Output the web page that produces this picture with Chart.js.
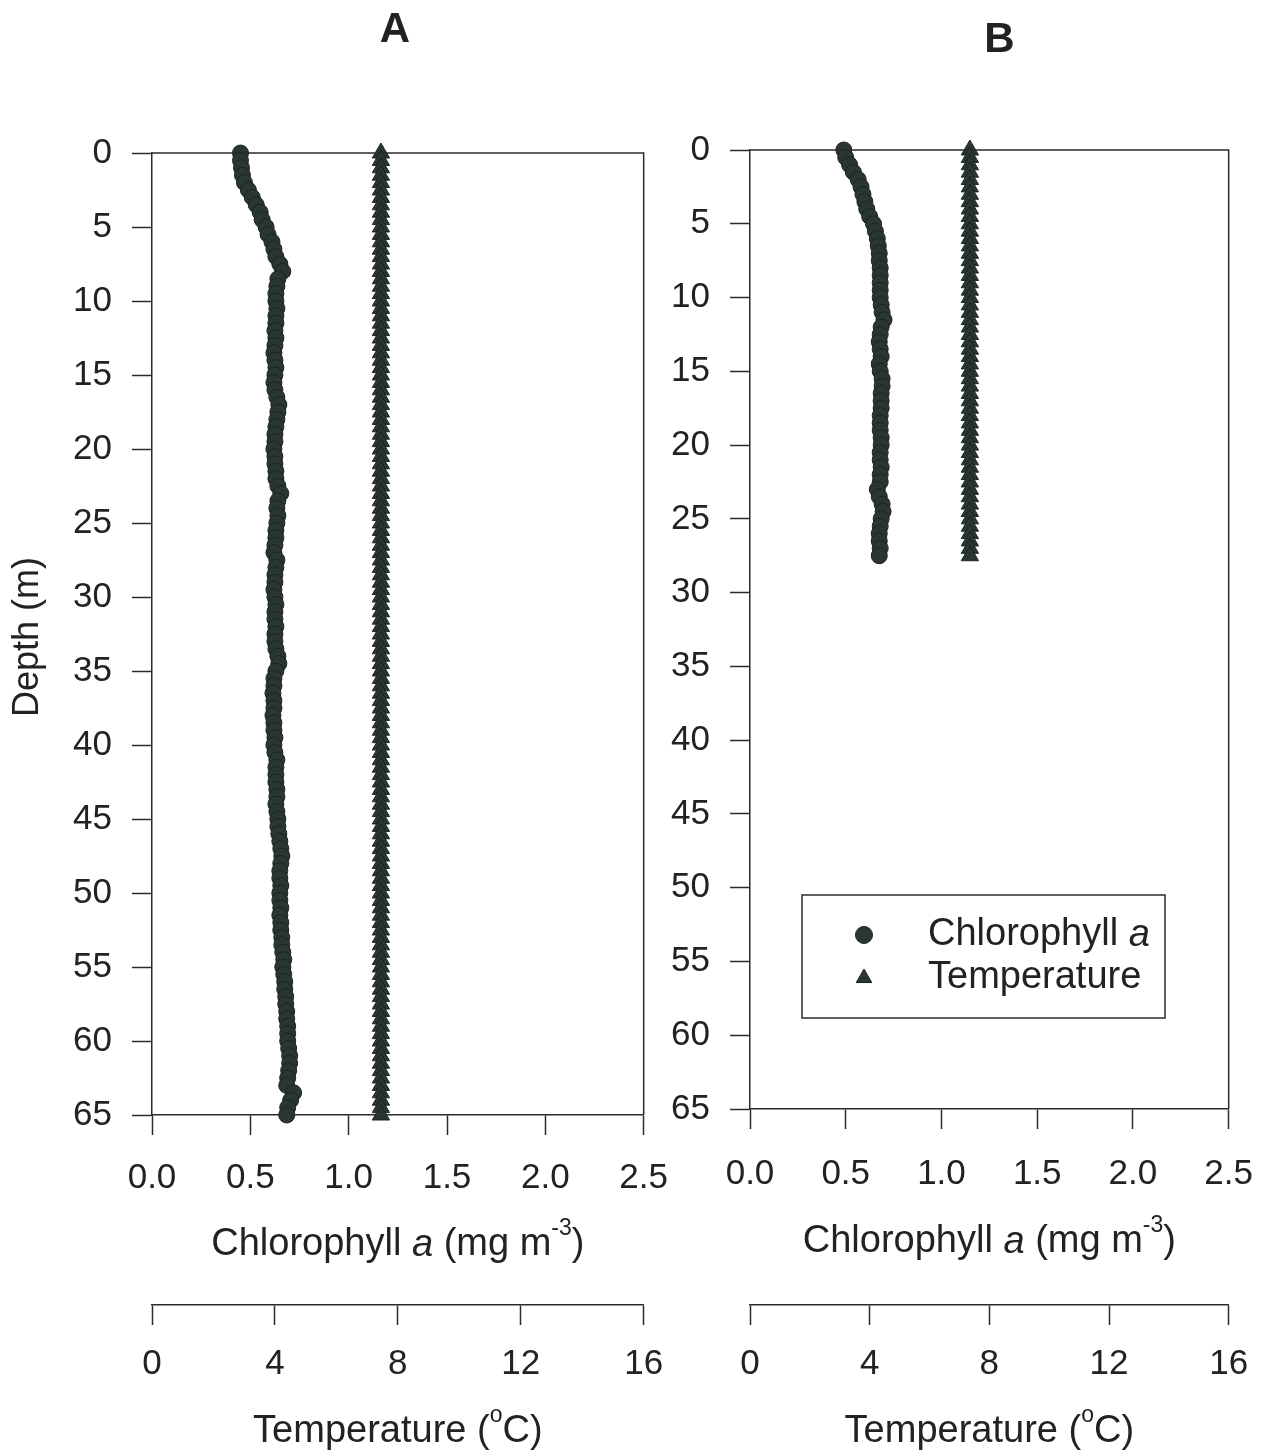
<!DOCTYPE html>
<html>
<head>
<meta charset="utf-8">
<title>Chlorophyll a and temperature profiles</title>
<script src="https://cdn.jsdelivr.net/npm/chart.js@4.4.0/dist/chart.umd.min.js"></script>
<style>
  html, body { margin: 0; padding: 0; background: #fff; overflow: hidden; }
  #wrap { position: relative; width: 1273px; height: 1455px; overflow: hidden; }
  #chartA { position: absolute; left: 0; top: 0; }
  #chartB { position: absolute; left: 640px; top: 0; }
</style>
</head>
<body>
<div id="wrap">
  <canvas id="chartA" width="690" height="1455"></canvas>
  <canvas id="chartB" width="637" height="1455"></canvas>
</div>
<script>
// ---- data (depth in m, chlorophyll a in mg m-3, temperature in degC) ----
var depthA = [
  0, 0.5, 1, 1.5, 2, 2.5, 3, 3.5, 4, 4.5,
  5, 5.5, 6, 6.5, 7, 7.5, 8, 8.5, 9, 9.5,
  10, 10.5, 11, 11.5, 12, 12.5, 13, 13.5, 14, 14.5,
  15, 15.5, 16, 16.5, 17, 17.5, 18, 18.5, 19, 19.5,
  20, 20.5, 21, 21.5, 22, 22.5, 23, 23.5, 24, 24.5,
  25, 25.5, 26, 26.5, 27, 27.5, 28, 28.5, 29, 29.5,
  30, 30.5, 31, 31.5, 32, 32.5, 33, 33.5, 34, 34.5,
  35, 35.5, 36, 36.5, 37, 37.5, 38, 38.5, 39, 39.5,
  40, 40.5, 41, 41.5, 42, 42.5, 43, 43.5, 44, 44.5,
  45, 45.5, 46, 46.5, 47, 47.5, 48, 48.5, 49, 49.5,
  50, 50.5, 51, 51.5, 52, 52.5, 53, 53.5, 54, 54.5,
  55, 55.5, 56, 56.5, 57, 57.5, 58, 58.5, 59, 59.5,
  60, 60.5, 61, 61.5, 62, 62.5, 63, 63.5, 64, 64.5,
  65
];
var chlA = [
  0.45, 0.45, 0.455, 0.46, 0.47, 0.49, 0.51, 0.53, 0.55, 0.56,
  0.58, 0.59, 0.61, 0.62, 0.63, 0.65, 0.665, 0.64, 0.635, 0.63,
  0.63, 0.635, 0.63, 0.63, 0.625, 0.63, 0.625, 0.62, 0.625, 0.63,
  0.625, 0.62, 0.625, 0.635, 0.645, 0.64, 0.635, 0.63, 0.625, 0.625,
  0.62, 0.625, 0.625, 0.63, 0.63, 0.64, 0.655, 0.64, 0.635, 0.64,
  0.635, 0.63, 0.63, 0.625, 0.62, 0.635, 0.63, 0.625, 0.625, 0.62,
  0.625, 0.63, 0.625, 0.625, 0.63, 0.625, 0.625, 0.63, 0.64, 0.645,
  0.63, 0.62, 0.62, 0.615, 0.62, 0.62, 0.615, 0.62, 0.62, 0.625,
  0.62, 0.625, 0.635, 0.63, 0.63, 0.63, 0.635, 0.635, 0.63, 0.635,
  0.64, 0.64, 0.645, 0.65, 0.655, 0.66, 0.655, 0.65, 0.65, 0.655,
  0.65, 0.65, 0.655, 0.65, 0.655, 0.655, 0.66, 0.66, 0.665, 0.67,
  0.665, 0.67, 0.675, 0.675, 0.68, 0.68, 0.685, 0.685, 0.69, 0.69,
  0.69, 0.695, 0.7, 0.7, 0.695, 0.69, 0.685, 0.72, 0.705, 0.69,
  0.685
];
var tempA = [
  7.45, 7.45, 7.45, 7.45, 7.45, 7.45, 7.45, 7.45, 7.45, 7.45,
  7.45, 7.45, 7.45, 7.45, 7.45, 7.45, 7.45, 7.45, 7.45, 7.45,
  7.45, 7.45, 7.45, 7.45, 7.45, 7.45, 7.45, 7.45, 7.45, 7.45,
  7.45, 7.45, 7.45, 7.45, 7.45, 7.45, 7.45, 7.45, 7.45, 7.45,
  7.45, 7.45, 7.45, 7.45, 7.45, 7.45, 7.45, 7.45, 7.45, 7.45,
  7.45, 7.45, 7.45, 7.45, 7.45, 7.45, 7.45, 7.45, 7.45, 7.45,
  7.45, 7.45, 7.45, 7.45, 7.45, 7.45, 7.45, 7.45, 7.45, 7.45,
  7.45, 7.45, 7.45, 7.45, 7.45, 7.45, 7.45, 7.45, 7.45, 7.45,
  7.45, 7.45, 7.45, 7.45, 7.45, 7.45, 7.45, 7.45, 7.45, 7.45,
  7.45, 7.45, 7.45, 7.45, 7.45, 7.45, 7.45, 7.45, 7.45, 7.45,
  7.45, 7.45, 7.45, 7.45, 7.45, 7.45, 7.45, 7.45, 7.45, 7.45,
  7.45, 7.45, 7.45, 7.45, 7.45, 7.45, 7.45, 7.45, 7.45, 7.45,
  7.45, 7.45, 7.45, 7.45, 7.45, 7.45, 7.45, 7.45, 7.45, 7.45,
  7.45
];

var depthB = [
  0, 0.5, 1, 1.5, 2, 2.5, 3, 3.5, 4, 4.5,
  5, 5.5, 6, 6.5, 7, 7.5, 8, 8.5, 9, 9.5,
  10, 10.5, 11, 11.5, 12, 12.5, 13, 13.5, 14, 14.5,
  15, 15.5, 16, 16.5, 17, 17.5, 18, 18.5, 19, 19.5,
  20, 20.5, 21, 21.5, 22, 22.5, 23, 23.5, 24, 24.5,
  25, 25.5, 26, 26.5, 27, 27.5
];
var chlB = [
  0.49, 0.5, 0.52, 0.54, 0.565, 0.58, 0.59, 0.6, 0.61, 0.625,
  0.645, 0.655, 0.665, 0.67, 0.675, 0.675, 0.68, 0.68, 0.68, 0.68,
  0.68, 0.685, 0.69, 0.7, 0.685, 0.68, 0.675, 0.68, 0.685, 0.675,
  0.68, 0.69, 0.69, 0.685, 0.685, 0.685, 0.68, 0.68, 0.68, 0.685,
  0.685, 0.68, 0.68, 0.685, 0.68, 0.68, 0.665, 0.675, 0.69, 0.695,
  0.685, 0.68, 0.675, 0.675, 0.68, 0.675
];
var tempB = [
  7.35, 7.35, 7.35, 7.35, 7.35, 7.35, 7.35, 7.35, 7.35, 7.35,
  7.35, 7.35, 7.35, 7.35, 7.35, 7.35, 7.35, 7.35, 7.35, 7.35,
  7.35, 7.35, 7.35, 7.35, 7.35, 7.35, 7.35, 7.35, 7.35, 7.35,
  7.35, 7.35, 7.35, 7.35, 7.35, 7.35, 7.35, 7.35, 7.35, 7.35,
  7.35, 7.35, 7.35, 7.35, 7.35, 7.35, 7.35, 7.35, 7.35, 7.35,
  7.35, 7.35, 7.35, 7.35, 7.35, 7.35
];

var chlTicks = [0, 0.5, 1, 1.5, 2, 2.5];
var tempTicks = [0, 4, 8, 12, 16];
var depthTicks = [0, 5, 10, 15, 20, 25, 30, 35, 40, 45, 50, 55, 60, 65];

// ---- styling ----
var FONT = "'Liberation Sans', Arial, Helvetica, sans-serif";
var MARK = "#2a3731";
var MARK_EDGE = "#1b2420";
var AXIS = "#2b2b2b";
var TEXT = "#222";

function toPoints(xs, ys) {
  return xs.map(function (v, i) { return { x: v, y: ys[i] }; });
}

function fixedTicks(values) {
  return function (scale) {
    scale.ticks = values.map(function (v) { return { value: v }; });
  };
}

// draw a run of text pieces with different styles, centred on (cx, cy)
function drawRich(ctx, parts, cx, cy, size) {
  var total = 0;
  parts.forEach(function (p) {
    p.fs = p.sup ? Math.round(size * 0.6) : size;
    ctx.font = (p.italic ? "italic " : "") + p.fs + "px " + FONT;
    p.w = ctx.measureText(p.t).width;
    total += p.w;
  });
  var x = cx - total / 2;
  ctx.textAlign = "left";
  ctx.textBaseline = "middle";
  parts.forEach(function (p) {
    ctx.font = (p.italic ? "italic " : "") + p.fs + "px " + FONT;
    ctx.fillText(p.t, x, p.sup ? cy - size * 0.44 : cy);
    x += p.w;
  });
}

function chlTitle() {
  return [{ t: "Chlorophyll " }, { t: "a", italic: true }, { t: " (mg m" }, { t: "-3", sup: true }, { t: ")" }];
}
function tempTitle() {
  return [{ t: "Temperature (" }, { t: "o", sup: true }, { t: "C)" }];
}

var decorPlugin = {
  id: "decor",
  afterDraw: function (chart, args, opts) {
    var ctx = chart.ctx;
    var area = chart.chartArea;
    var sx = chart.scales.x;
    var st = chart.scales.xT;
    ctx.save();

    // top and right edges of the frame
    ctx.strokeStyle = AXIS;
    ctx.lineWidth = 1.5;
    ctx.beginPath();
    ctx.moveTo(area.left, area.top);
    ctx.lineTo(area.right, area.top);
    ctx.lineTo(area.right, area.bottom);
    ctx.stroke();

    ctx.fillStyle = TEXT;
    var mid = (area.left + area.right) / 2;
    drawRich(ctx, chlTitle(), mid, sx.top + opts.chlTitleDy, 38);
    drawRich(ctx, tempTitle(), mid, st.top + 127, 38);

    if (opts.yTitle) {
      ctx.save();
      ctx.translate(28, (area.top + area.bottom) / 2 + 3);
      ctx.rotate(-Math.PI / 2);
      ctx.font = "36px " + FONT;
      ctx.textAlign = "center";
      ctx.textBaseline = "middle";
      ctx.fillText(opts.yTitle, 0, 0);
      ctx.restore();
    }

    // panel letter
    ctx.font = "bold 42px " + FONT;
    ctx.textAlign = "center";
    ctx.textBaseline = "middle";
    ctx.fillText(opts.letter, mid + opts.letterDx, opts.letterY);

    // legend box
    if (opts.legend) {
      var bx = area.left + 52, by = area.top + 745, bw = 363, bh = 123;
      ctx.strokeStyle = AXIS;
      ctx.lineWidth = 1.5;
      ctx.strokeRect(bx, by, bw, bh);
      var rows = [by + 40, by + 83];
      ctx.fillStyle = MARK;
      ctx.strokeStyle = MARK_EDGE;
      ctx.lineWidth = 1;
      chart.data.datasets.forEach(function (d, i) {
        Chart.helpers.drawPoint(ctx, {
          pointStyle: d.pointStyle, radius: i === 0 ? 8.5 : 9, borderWidth: 1, rotation: 0
        }, bx + 62, rows[i]);
      });
      ctx.fillStyle = TEXT;
      ctx.textAlign = "left";
      ctx.textBaseline = "middle";
      var x = bx + 126;
      ctx.font = "38px " + FONT;
      ctx.fillText("Chlorophyll ", x, rows[0]);
      x += ctx.measureText("Chlorophyll ").width;
      ctx.font = "italic 38px " + FONT;
      ctx.fillText("a", x, rows[0]);
      ctx.font = "38px " + FONT;
      ctx.fillText("Temperature", bx + 126, rows[1]);
    }
    ctx.restore();
  }
};

function makePanel(canvasId, p) {
  var tickFont = { family: FONT, size: 35 };
  return new Chart(document.getElementById(canvasId), {
    type: "scatter",
    data: {
      datasets: [
        {
          label: "Chlorophyll a",
          data: toPoints(p.chl, p.depth),
          xAxisID: "x", yAxisID: "y",
          pointStyle: "circle", pointRadius: 8, pointHoverRadius: 8,
          backgroundColor: MARK, borderColor: MARK_EDGE, borderWidth: 1,
          clip: false
        },
        {
          label: "Temperature",
          data: toPoints(p.temp, p.depth),
          xAxisID: "xT", yAxisID: "y",
          pointStyle: "triangle", pointRadius: 10, pointHoverRadius: 10,
          backgroundColor: MARK, borderColor: MARK_EDGE, borderWidth: 1,
          clip: false
        }
      ]
    },
    options: {
      responsive: false,
      animation: false,
      events: [],
      layout: { padding: { top: p.top, left: 0, right: p.padRight, bottom: 10 } },
      plugins: {
        legend: { display: false },
        title: { display: false },
        tooltip: { enabled: false },
        decor: p.decor
      },
      scales: {
        x: {
          type: "linear", position: "bottom", min: 0, max: 2.5,
          afterBuildTicks: fixedTicks(chlTicks),
          grid: { drawOnChartArea: false, tickLength: 20, tickWidth: 1.5, tickColor: AXIS },
          border: { display: true, color: AXIS, width: 1.5 },
          ticks: {
            color: TEXT, font: tickFont, padding: p.xTickPad, maxRotation: 0, autoSkip: false,
            callback: function (v) { return v.toFixed(1); }
          },
          afterFit: function (s) { s.height = p.chlAxisH; }
        },
        xT: {
          type: "linear", position: "bottom", min: 0, max: 16,
          afterBuildTicks: fixedTicks(tempTicks),
          grid: { drawOnChartArea: false, tickLength: 20, tickWidth: 1.5, tickColor: AXIS },
          border: { display: true, color: AXIS, width: 1.5 },
          ticks: { color: TEXT, font: tickFont, padding: 18, maxRotation: 0, autoSkip: false },
          afterFit: function (s) { s.height = 140; }
        },
        y: {
          type: "linear", reverse: true, min: 0, max: 65,
          afterBuildTicks: fixedTicks(depthTicks),
          grid: { drawOnChartArea: false, tickLength: 20, tickWidth: 1.5, tickColor: AXIS },
          border: { display: true, color: AXIS, width: 1.5 },
          ticks: { color: TEXT, font: tickFont, padding: 20, autoSkip: false },
          afterFit: function (s) { s.width = p.yAxisW; }
        }
      }
    },
    plugins: [decorPlugin]
  });
}

makePanel("chartA", {
  depth: depthA, chl: chlA, temp: tempA,
  top: 153, padRight: 37, yAxisW: 152, chlAxisH: 190, xTickPad: 22,
  decor: { letter: "A", letterDx: -3, letterY: 30, chlTitleDy: 130, yTitle: "Depth (m)" }
});

makePanel("chartB", {
  depth: depthB, chl: chlB, temp: tempB,
  top: 150, padRight: 41, yAxisW: 110, chlAxisH: 196, xTickPad: 24,
  decor: { letter: "B", letterDx: 10, letterY: 40, chlTitleDy: 133, legend: true }
});
</script>
</body>
</html>
